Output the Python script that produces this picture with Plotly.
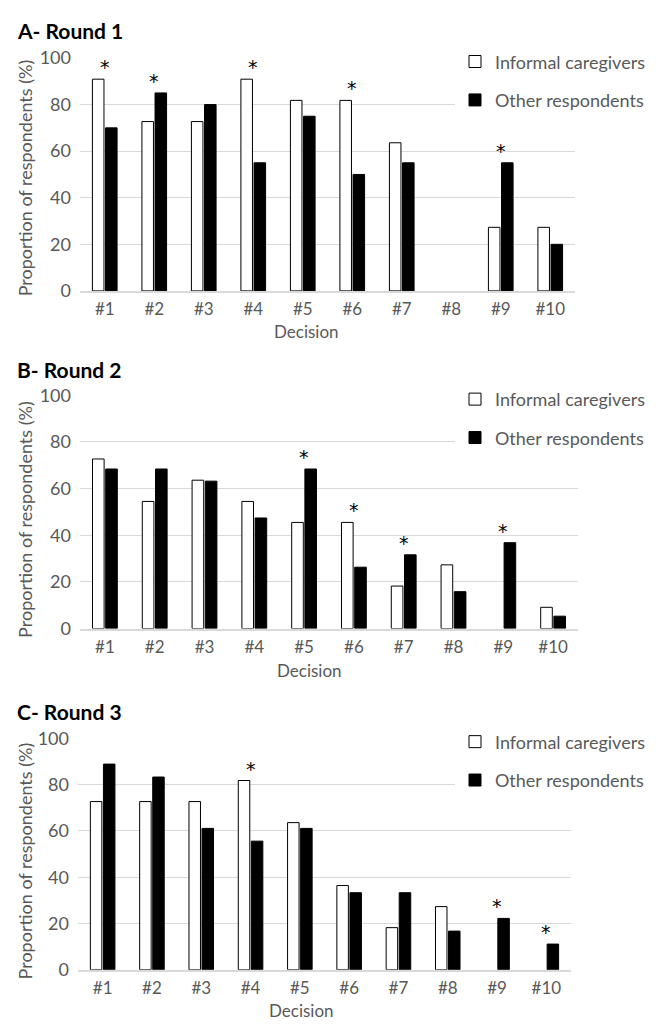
import plotly.graph_objects as go
from plotly.subplots import make_subplots

W, H = 656, 1028

categories = ["#1", "#2", "#3", "#4", "#5", "#6", "#7", "#8", "#9", "#10"]
series_names = ["Informal caregivers", "Other respondents"]
panel_titles = ["A- Round 1", "B- Round 2", "C- Round 3"]

ic_r1 = [90.9, 72.7, 72.7, 90.9, 81.8, 81.8, 63.6, 0, 27.3, 27.3]
other_r1 = [70.0, 85.0, 80.0, 55.0, 75.0, 50.0, 55.0, 0, 55.0, 20.0]
sig_r1 = ["#1", "#2", "#4", "#6", "#9"]

ic_r2 = [72.7, 54.5, 63.6, 54.5, 45.5, 45.5, 18.2, 27.3, 0, 9.1]
other_r2 = [68.4, 68.4, 63.2, 47.4, 68.4, 26.3, 31.6, 15.8, 36.8, 5.3]
sig_r2 = ["#5", "#6", "#7", "#9"]

ic_r3 = [72.7, 72.7, 72.7, 81.8, 63.6, 36.4, 18.2, 27.3, 0, 0]
other_r3 = [88.9, 83.3, 61.1, 55.6, 61.1, 33.3, 33.3, 16.7, 22.2, 11.1]
sig_r3 = ["#4", "#9", "#10"]

y_ticks = [0, 20, 40, 60, 80, 100]
x_title = "Decision"
y_title = "Proportion of respondents (%)"

FONT = "Lato"
GRAY = "#595959"
GRID = "#d9d9d9"

def px_x(p):
    return p / W

def px_y(p):
    return 1 - p / H

# panel layout in pixels
panels = [
    dict(x0=80, x1=575, yt=47, yb=285, title_y=19, leg_top=32, dec=(306, 326), ytit=170),
    dict(x0=80, x1=578, yt=391.7, yb=630, title_y=365, leg_top=377, dec=(309, 673), ytit=519),
    dict(x0=78, x1=571, yt=742.3, yb=978.7, title_y=715, leg_top=727, dec=(301, 1020), ytit=868),
]
data = [(ic_r1, other_r1, sig_r1), (ic_r2, other_r2, sig_r2), (ic_r3, other_r3, sig_r3)]

fig = make_subplots(rows=3, cols=1)
annotations = []
legend_keys = ["legend", "legend2", "legend3"]

for i, (p, (ic, oth, sig)) in enumerate(zip(panels, data)):
    r = i + 1
    lk = legend_keys[i]
    fig.add_trace(go.Bar(
        x=categories, y=ic, name=series_names[0],
        marker=dict(color="white",
                    line=dict(color="black", width=[1 if v > 0 else 0 for v in ic])),
        legend=lk, legendgroup=f"ic{r}", hoverinfo="y",
    ), row=r, col=1)
    fig.add_trace(go.Bar(
        x=categories, y=oth, name=series_names[1],
        marker=dict(color="black",
                    line=dict(color="black", width=[1 if v > 0 else 0 for v in oth])),
        legend=lk, legendgroup=f"oth{r}", hoverinfo="y",
    ), row=r, col=1)

    xa = "xaxis" if r == 1 else f"xaxis{r}"
    ya = "yaxis" if r == 1 else f"yaxis{r}"
    fig.layout[xa].update(
        domain=[px_x(p["x0"]), px_x(p["x1"])],
        showgrid=False, showline=True, linecolor=GRID, linewidth=2,
        ticks="", tickfont=dict(family=FONT, size=17, color=GRAY),
        layer="above traces", zeroline=False, ticklabelstandoff=2,
        fixedrange=True,
    )
    fig.layout[ya].update(
        domain=[px_y(p["yb"]), px_y(p["yt"])],
        range=[0, 100], tickvals=y_ticks,
        showgrid=True, gridcolor=GRID, gridwidth=1,
        zeroline=False, showline=False, ticks="",
        tickfont=dict(family=FONT, size=18, color=GRAY),
        ticklabelstandoff=8, fixedrange=True,
    )

    # legend
    fig.layout[lk] = dict(
        x=px_x(455), y=px_y(p["leg_top"]), xanchor="left", yanchor="top",
        bgcolor="white", font=dict(family=FONT, size=18, color=GRAY),
        tracegroupgap=12, traceorder="grouped", itemwidth=30,
    )

    # panel title
    annotations.append(dict(
        text=f"<b>{panel_titles[i]}</b>", xref="paper", yref="paper",
        x=px_x(15), y=px_y(p["title_y"]), xanchor="left", yanchor="middle",
        showarrow=False, font=dict(family=FONT, size=21, color="black"),
    ))
    # axis titles
    annotations.append(dict(
        text=x_title, xref="paper", yref="paper",
        x=px_x(p["dec"][0]), y=px_y(p["dec"][1]), xanchor="center", yanchor="middle",
        showarrow=False, font=dict(family=FONT, size=17, color=GRAY),
    ))
    annotations.append(dict(
        text=y_title, xref="paper", yref="paper", textangle=-90,
        x=px_x(25), y=px_y(p["ytit"]), xanchor="center", yanchor="middle",
        showarrow=False, font=dict(family=FONT, size=18, color=GRAY),
    ))
    # significance asterisks
    xr = "x" if r == 1 else f"x{r}"
    yr = "y" if r == 1 else f"y{r}"
    for c in sig:
        k = categories.index(c)
        annotations.append(dict(
            text="*", xref=xr, yref=yr, x=c, y=max(ic[k], oth[k]),
            xanchor="center", yanchor="middle", yshift=12, showarrow=False,
            font=dict(family="DejaVu Sans", size=19, color="black"),
        ))

fig.update_layout(
    width=W, height=H, margin=dict(l=0, r=0, t=0, b=0),
    paper_bgcolor="white", plot_bgcolor="white",
    barmode="group", bargap=0.47, bargroupgap=0.12,
    showlegend=True, annotations=annotations,
    font=dict(family=FONT, color=GRAY),
)

fig.write_html("out.html", config={"displayModeBar": False},
               post_script="document.body.style.margin='0';")
